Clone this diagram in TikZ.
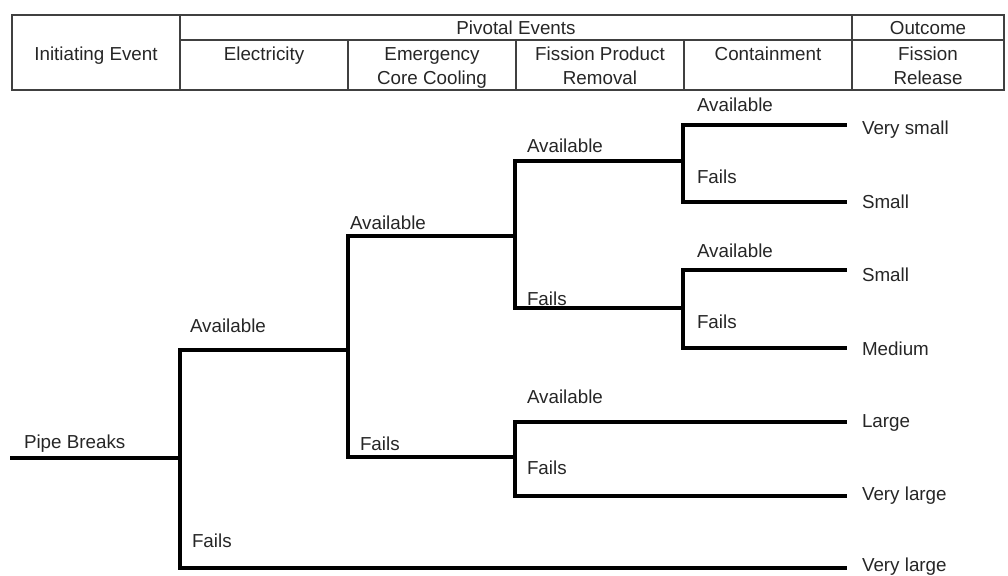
\documentclass[tikz,border=0pt]{standalone}
\usepackage{fontspec}
\setmainfont{Liberation Sans}
\begin{document}
\begin{tikzpicture}[x=1pt,y=-1pt,
  every node/.style={inner sep=0pt, outer sep=0pt, text=black!85, font=\fontsize{18.8}{24}\selectfont},
  hdr/.style={anchor=base},
  lbl/.style={anchor=base west},
  grid/.style={draw=black!75, line width=1.8pt},
  branch/.style={draw=black, line width=3.2pt, line join=miter}]
\useasboundingbox (0,0) rectangle (1008,575);
% header table
\draw[grid] (12,15) rectangle (1004,90);
\draw[grid] (180,40) -- (1004,40);
\draw[grid] (180,15) -- (180,90);
\draw[grid] (852,15) -- (852,90);
\draw[grid] (348,40) -- (348,90);
\draw[grid] (516,40) -- (516,90);
\draw[grid] (684,40) -- (684,90);
\node[hdr] (hpe) at (516,35) {Pivotal Events};
\node[hdr] (hout) at (928,35) {Outcome};
\node[hdr] (hie) at (96,61) {Initiating Event};
\node[hdr] (hel) at (264,61) {Electricity};
\node[hdr] (hec1) at (432,61) {Emergency};
\node[hdr] (hec2) at (432,85) {Core Cooling};
\node[hdr] (hfp1) at (600,61) {Fission Product};
\node[hdr] (hfp2) at (600,85) {Removal};
\node[hdr] (hco) at (768,61) {Containment};
\node[hdr] (hfr1) at (928,61) {Fission};
\node[hdr] (hfr2) at (928,85) {Release};
% tree coordinates
\coordinate (r0) at (10,458);
\coordinate (n1) at (180,458);
\coordinate (n2) at (348,350);
\coordinate (n3) at (515,236);
\coordinate (n4) at (515,457);
\coordinate (n5) at (683,161);
\coordinate (n6) at (683,308);
\coordinate (e1) at (847,125);
\coordinate (e2) at (847,202);
\coordinate (e3) at (847,270);
\coordinate (e4) at (847,348);
\coordinate (e5) at (847,422);
\coordinate (e6) at (847,496);
\coordinate (e7) at (847,568);
% branches
\draw[branch] (r0) -- (n1);
\draw[branch] (n1) |- (n2);
\draw[branch] (n1) |- (e7);
\draw[branch] (n2) |- (n3);
\draw[branch] (n2) |- (n4);
\draw[branch] (n3) |- (n5);
\draw[branch] (n3) |- (n6);
\draw[branch] (n5) |- (e1);
\draw[branch] (n5) |- (e2);
\draw[branch] (n6) |- (e3);
\draw[branch] (n6) |- (e4);
\draw[branch] (n4) |- (e5);
\draw[branch] (n4) |- (e6);
% labels
\node[lbl] (lpb) at (24,448) {Pipe Breaks};
\node[lbl] (la1) at (190,332) {Available};
\node[lbl] (lf1) at (192,547) {Fails};
\node[lbl] (la2) at (350,229) {Available};
\node[lbl] (lf2) at (360,450) {Fails};
\node[lbl] (la3) at (527,152) {Available};
\node[lbl] (lf3) at (527,305) {Fails};
\node[lbl] (la4) at (527,403) {Available};
\node[lbl] (lf4) at (527,474) {Fails};
\node[lbl] (la5) at (697,111) {Available};
\node[lbl] (lf5) at (697,183) {Fails};
\node[lbl] (la6) at (697,257) {Available};
\node[lbl] (lf6) at (697,328) {Fails};
% outcomes
\node[lbl] (o1) at (862,135) {Very small};
\node[lbl] (o2) at (862,208) {Small};
\node[lbl] (o3) at (862,281) {Small};
\node[lbl] (o4) at (862,355) {Medium};
\node[lbl] (o5) at (862,427) {Large};
\node[lbl] (o6) at (862,500) {Very large};
\node[lbl] (o7) at (862,571) {Very large};
\end{tikzpicture}
\end{document}
